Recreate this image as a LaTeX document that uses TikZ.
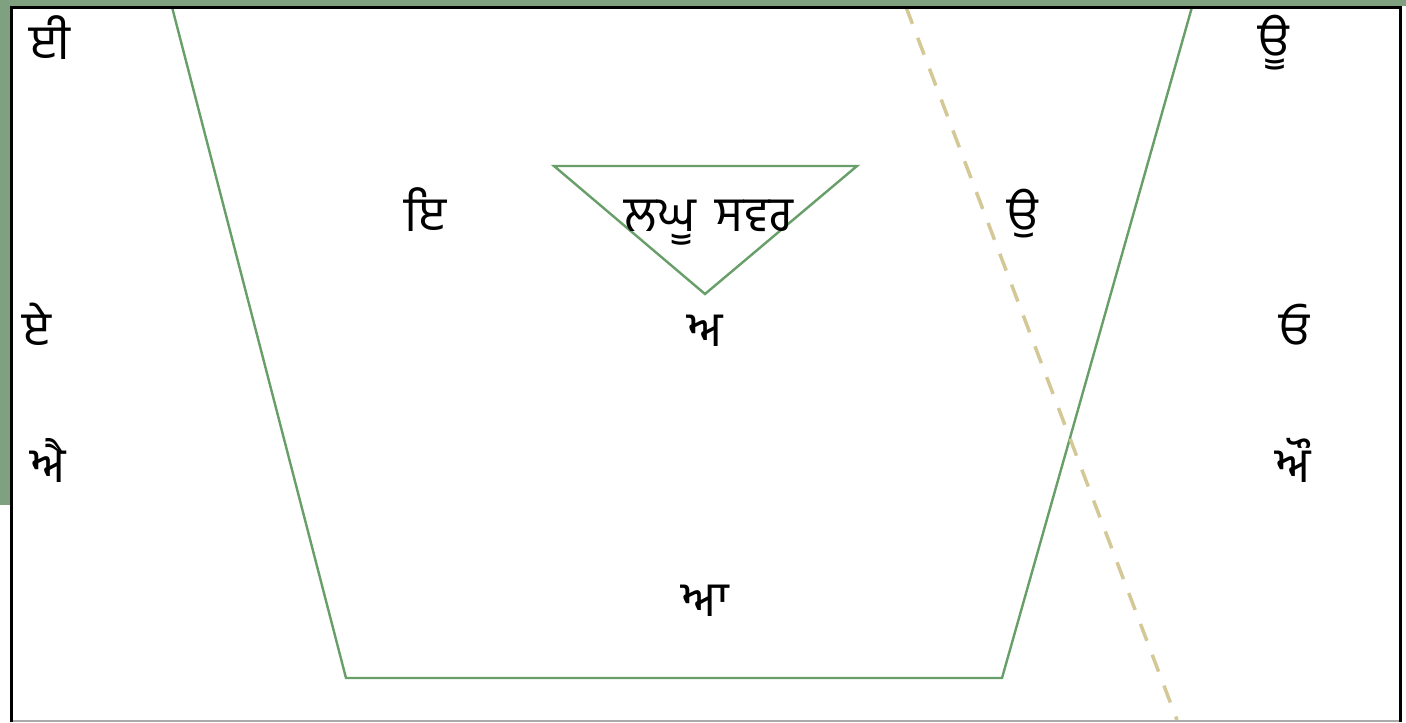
\documentclass[tikz,border=0pt]{standalone}
\usepackage{fontspec}
\newfontfamily\gurmukhifont[Script=Gurmukhi]{Hind Jalandhar}
\definecolor{slideGreen}{RGB}{127,161,127}
\definecolor{chartGreen}{RGB}{104,158,104}
\definecolor{roundTan}{RGB}{212,200,150}
\definecolor{frameGray}{RGB}{170,170,170}
\usetikzlibrary{calc}

\begin{document}
\begin{tikzpicture}[x=1pt, y=-1pt,
        vowel/.style={anchor=base, inner sep=0pt,
          font=\gurmukhifont\fontsize{49}{58}\selectfont},
        chart/.style={draw=chartGreen, line width=2.4pt, line join=miter},
        round/.style={draw=roundTan, line width=3.5pt,
          dash pattern=on 18pt off 15pt}
      ]
        \useasboundingbox (0,0) rectangle (1406,723);

        % Slide background
        \fill[slideGreen] (0,0) rectangle (1406,6);
        \fill[slideGreen] (0,0) rectangle (10,505);
        \fill[white] (11,7) rectangle (1400,720);

        % Vowel chart
        \draw[chart] (172,7) -- (346,678) -- (1002,678) -- (1192,7);
        \draw[chart] (554,166) -- (857,166) -- (705,294) -- cycle;

        % Rounding line
        \draw[round] (906,7) -- (1177,720);

        % Frame
        \draw[frameGray, line width=2pt] (11,721) -- (1400,721);
        \draw[black, line width=3pt] (11,722) -- (11,7) -- (1400,7) -- (1400,722);

        % Vowels, front to back
        \node[vowel] (ii) at (50,59) {ਈ};
        \node[vowel] (uu) at (1274,57) {ਊ};

        \node[vowel] (i) at (425,231) {ਇ};
        \node[vowel] (lagh) at (709,231) {ਲਘੂ\hspace{20pt}ਸਵਰ};
        \node[vowel] (u) at (1023,231) {ਉ};

        \node[vowel] (e) at (36,346) {ਏ};
        \node[vowel] (a) at (705,346) {ਅ};
        \node[vowel] (o) at (1294,346) {ਓ};

        \node[vowel] (ai) at (48,482) {ਐ};
        \node[vowel] (au) at (1293,482) {ਔ};

        \node[vowel] (aa) at (705,616) {ਆ};
      \end{tikzpicture}
\end{document}
